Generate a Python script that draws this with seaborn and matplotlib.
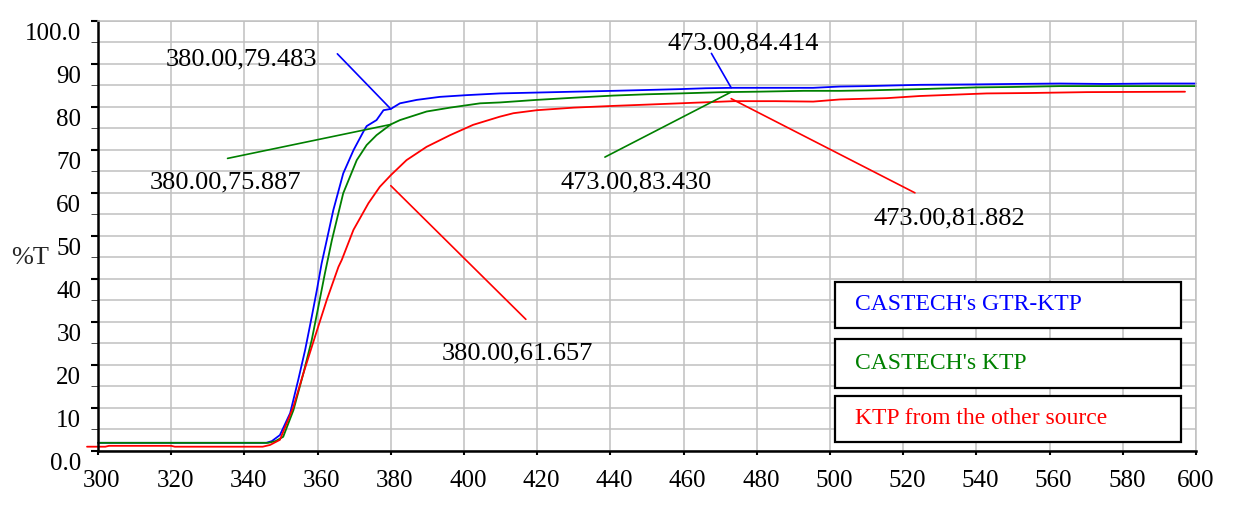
import pandas as pd
import matplotlib.pyplot as plt
import seaborn as sns
from matplotlib.patches import Rectangle
from matplotlib.transforms import ScaledTranslation

# transmission curves (wavelength nm, %T)
wl_gtr = [300, 346, 347.5, 349.7, 352.5, 354.7, 356.6, 358.4, 359.8, 361.1, 362.5, 364.3,
          367.0, 369.8, 372.5, 373.4, 376.1, 378.0, 380, 382.5, 387.1, 393.4, 400.7, 409.8,
          419.9, 430, 440.8, 450, 459.0, 466, 473, 485, 495.4, 502.7, 510, 524.6, 540.1,
          550, 562.8, 575, 588.3, 600]
t_gtr = [1.9, 1.9, 2.3, 3.7, 8.8, 16.5, 23.5, 31.2, 37.4, 43.6, 49.0, 56.0,
         64.5, 69.9, 74.2, 75.5, 76.9, 79.2, 79.5, 80.8, 81.6, 82.3, 82.7, 83.1,
         83.3, 83.5, 83.7, 83.9, 84.1, 84.3, 84.4, 84.4, 84.4, 84.7, 84.8, 85.1, 85.2,
         85.3, 85.4, 85.3, 85.4, 85.4]

wl_ktp = [300, 346.5, 348.5, 350.6, 353.4, 356.1, 358.4, 360.2, 362.0, 363.9, 367.0, 370.7,
          373.4, 376.1, 380, 382.5, 389.8, 396.2, 404.4, 409.8, 419.9, 430, 440.8, 450,
          459, 471, 480, 492.8, 502.7, 510, 524.6, 540.1, 550, 562.8, 580, 600]
t_ktp = [1.9, 1.9, 2.3, 3.3, 9.5, 18.0, 25.8, 33.5, 41.3, 49.0, 59.9, 67.6,
         71.1, 73.4, 75.9, 76.9, 78.9, 79.8, 80.8, 81.0, 81.6, 82.1, 82.6, 82.9,
         83.1, 83.4, 83.5, 83.7, 83.7, 83.8, 84.1, 84.5, 84.6, 84.8, 84.8, 84.8]

wl_other = [297, 302, 303, 320, 321, 345, 347, 349.7, 353.4, 356.1, 359.3, 362.5, 365.7,
            366.6, 369.8, 373.9, 377.0, 380, 384.3, 389.8, 396.2, 402.5, 409.8, 413.5,
            419.9, 430, 440.8, 450, 459, 473.6, 485, 495.4, 502.7, 515.5, 524.6, 542.8,
            555, 570.1, 597]
t_other = [1.0, 1.0, 1.2, 1.2, 1.0, 1.0, 1.4, 2.6, 10.3, 18.0, 26.6, 35.1, 42.8,
           44.4, 51.4, 57.6, 61.4, 64.1, 67.6, 70.7, 73.4, 75.8, 77.7, 78.5,
           79.2, 79.8, 80.2, 80.5, 80.8, 81.3, 81.3, 81.2, 81.7, 82.0, 82.5, 83.1,
           83.2, 83.4, 83.5]

SERIES = ["CASTECH's GTR-KTP", "CASTECH's KTP", "KTP from the other source"]
COLORS = {SERIES[0]: "#0000ff", SERIES[1]: "#008000", SERIES[2]: "#ff0000"}

# point markers: picked point, far end of the leader line, label text
ann_x = [380, 380, 380, 473, 473, 473]
ann_y = [79.483, 75.887, 61.657, 84.414, 83.430, 81.882]
ann_end_x = [365.4, 335.4, 416.9, 467.6, 438.5, 523.2]
ann_end_y = [92.3, 68.0, 30.6, 92.4, 68.3, 60.0]
ann_series = [0, 1, 2, 0, 1, 2]
ann_text = ["380.00,79.483", "380.00,75.887", "380.00,61.657",
            "473.00,84.414", "473.00,83.430", "473.00,81.882"]
# where each label sits (data coords)
ann_label_pos = [(339.2, 90.9), (334.7, 62.4), (414.5, 22.7),
                 (476.3, 94.6), (447.0, 62.5), (532.5, 54.1)]

x_ticks = list(range(300, 601, 20))
y_ticks = list(range(0, 101, 10))
y_ticklabels = ["0.0", "10", "20", "30", "40", "50", "60", "70", "80", "90", "100.0"]

df = pd.concat([
    pd.DataFrame({"wl": wl_gtr, "T": t_gtr, "sample": SERIES[0]}),
    pd.DataFrame({"wl": wl_ktp, "T": t_ktp, "sample": SERIES[1]}),
    pd.DataFrame({"wl": wl_other, "T": t_other, "sample": SERIES[2]}),
])

sns.set_style("ticks")
plt.rcParams["font.family"] = ["Liberation Serif", "DejaVu Serif"]

fig, ax = plt.subplots(figsize=(12.43, 5.13), dpi=100)
fig.subplots_adjust(left=98 / 1243, right=1196 / 1243, top=1 - 20.7 / 513, bottom=1 - 451 / 513)

sns.lineplot(data=df, x="wl", y="T", hue="sample", palette=COLORS, estimator=None,
             sort=False, legend=False, linewidth=1.3, ax=ax)
for ln in ax.get_lines():
    ln.set_clip_on(False)

# leader lines + labels
for i in range(len(ann_text)):
    c = COLORS[SERIES[ann_series[i]]]
    ax.plot([ann_x[i], ann_end_x[i]], [ann_y[i], ann_end_y[i]], color=c, lw=1.2)
    lx, ly = ann_label_pos[i]
    ax.text(lx, ly, ann_text[i], ha="center", va="center", fontsize=19, color="black")

ax.set_xlim(300, 600)
ax.set_ylim(0, 100)
ax.set_xticks(x_ticks)
ax.set_yticks(y_ticks)
ax.set_yticks([v + 5 for v in y_ticks[:-1]], minor=True)
ax.set_yticklabels(y_ticklabels)
ax.tick_params(axis="both", labelsize=18, colors="black", width=1.5)
ax.tick_params(axis="y", which="both", length=5, pad=7)
ax.tick_params(axis="x", length=3, pad=11)

# the original prints the y labels a little below their ticks
for lab in ax.get_yticklabels():
    lab.set_transform(lab.get_transform() + ScaledTranslation(0, -0.11, fig.dpi_scale_trans))
# ...and the x labels slightly right of theirs
for lab in ax.get_xticklabels()[:-1]:
    lab.set_transform(lab.get_transform() + ScaledTranslation(0.04, 0, fig.dpi_scale_trans))

ax.grid(True, which="both", color="#c0c0c0", lw=1.1)
ax.set_axisbelow(True)
for s in ["left", "bottom"]:
    ax.spines[s].set_color("black")
    ax.spines[s].set_linewidth(1.8)
for s in ["top", "right"]:
    ax.spines[s].set_color("#c0c0c0")
    ax.spines[s].set_linewidth(1.1)

ax.set_xlabel("")
ax.set_ylabel("%T", rotation=0, fontsize=19, ha="center", va="center")
ax.yaxis.set_label_coords(-0.062, 0.4485)

# legend: three separate boxes
boxes = [(0.2866, 0.392), (0.1457, 0.2596), (0.0216, 0.1278)]
for name, (b, t) in zip(SERIES, boxes):
    ax.add_patch(Rectangle((0.671, b), 0.315, t - b, transform=ax.transAxes,
                           facecolor="white", edgecolor="black", lw=1.6, zorder=5))
    ax.text(0.689, (b + t) / 2, name, transform=ax.transAxes, ha="left", va="center",
            fontsize=17, color=COLORS[name], zorder=6)

fig.savefig("out.png", dpi=100)
